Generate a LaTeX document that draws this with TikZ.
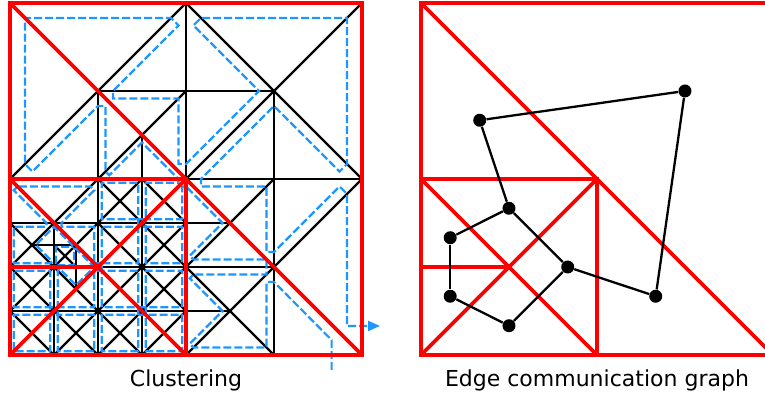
\documentclass[tikz,border=0pt]{standalone}
\usepackage{fontspec}
\setmainfont{DejaVu Sans}
\usetikzlibrary{arrows.meta}
\definecolor{clusterred}{HTML}{FF0000}
\definecolor{curveblue}{HTML}{1E96FF}
\tikzset{
  meshline/.style={black, line width=1.15pt},
  clusterline/.style={clusterred, line width=1.9pt},
  curveline/.style={curveblue, line width=1.1pt, dash pattern=on 4pt off 1.5pt},
  graphnode/.style={circle, fill=black, inner sep=0pt, minimum size=6.5pt},
  graphedge/.style={black, line width=1.15pt},
  caption/.style={font=\fontsize{11}{13}\selectfont, anchor=base},
}

%% newest vertex bisection: 1 = bisect, 0 = leaf (pre-order)
\def\codeEast{11010011100010100}
\def\codeR{1111001001100100111001001100100}
\def\codeB{1111001001100100111001001100100}
\def\codeLb{11100100110010100}
\def\codeLt{11110100110001100011000}
\def\codeTq{11010100111001001100100}
\def\codeWest{111100000}
\def\codeUpA{1101010011000}
\def\codeUpB{1101001110000}

\newcount\leafno
\newif\ifsamepoint
\def\popbit#1#2\relax{\gdef\thebit{#1}\gdef\meshcode{#2}}
\newcommand\testpoint[4]{%
  \samepointtrue
  \ifdim#1pt=#3pt\else\samepointfalse\fi
  \ifdim#2pt=#4pt\else\samepointfalse\fi}
% #1#2 entry vertex, #3#4 exit vertex, #5#6 apex
\newcommand\bisect[6]{%
  \expandafter\popbit\meshcode\relax
  \ifnum\thebit=1
    \pgfmathsetmacro\bsx{(#1+#3)/2}%
    \pgfmathsetmacro\bsy{(#2+#4)/2}%
    \draw[meshline] (#5,#6) -- (\bsx,\bsy);%
    \edef\next{\noexpand\bisect{#1}{#2}{#5}{#6}{\bsx}{\bsy}%
      \noexpand\bisect{#5}{#6}{#3}{#4}{\bsx}{\bsy}}%
  \else
    \pgfmathsetmacro\cvinx{#1+0.17*(#5-#1)}%
    \pgfmathsetmacro\cviny{#2+0.17*(#6-#2)}%
    \ifnum\leafno>0
      \testpoint{#5}{#6}{\cvlastax}{\cvlastay}%
      \ifsamepoint
        \xdef\curvepath{\curvepath -- (\cvoutcx,\cvoutcy)}%
      \else
        \xdef\curvepath{\curvepath -- (\cvoutx,\cvouty)}%
      \fi
      \testpoint{#3}{#4}{\cvlastcx}{\cvlastcy}%
      \ifsamepoint
        \pgfmathsetmacro\cvinx{\cvinx+0.085*(#3-#1)}%
        \pgfmathsetmacro\cviny{\cviny+0.085*(#4-#2)}%
      \fi
      \xdef\curvepath{\curvepath -- (\cvinx,\cviny)}%
    \fi
    \xdef\cvlastax{#1}\xdef\cvlastay{#2}%
    \xdef\cvlastcx{#5}\xdef\cvlastcy{#6}%
    \pgfmathsetmacro\cvoutx{#3+0.17*(#5-#3)}%
    \pgfmathsetmacro\cvouty{#4+0.17*(#6-#4)}%
    \pgfmathsetmacro\cvoutcx{\cvoutx+0.085*(#1-#3)}%
    \pgfmathsetmacro\cvoutcy{\cvouty+0.085*(#2-#4)}%
    \global\advance\leafno by 1
    \let\next\relax
  \fi
  \next}

\begin{document}
\begin{tikzpicture}[x=11pt, y=11pt]
  \useasboundingbox (-0.4545,-1.7727) rectangle (34.318,16.136);
  \clip (-0.4545,-1.7727) rectangle (34.318,16.136);

  %% Left: mesh and curve
  \xdef\meshcode{11\codeEast 1\codeR\codeB 111\codeLb\codeLt\codeTq\codeWest 1\codeUpA\codeUpB 0000}
  \gdef\curvepath{(14.62,-0.68) -- (14.62,0.68)}
  \bisect{16}{0}{0}{16}{0}{0}
  \bisect{0}{16}{16}{0}{16}{16}
  \xdef\curvepath{\curvepath -- (15.32,1.32)}
  \draw[curveline, -{Triangle[length=6pt, width=5pt]}] \curvepath -- (16.82,1.32);

  %% Cluster boundaries (both panels)
  \foreach \ox in {0,18.68} {
    \begin{scope}[shift={(\ox,0)}]
      \draw[clusterline] (0,0) rectangle (16,16);
      \draw[clusterline] (0,16) -- (16,0);
      \draw[clusterline] (0,8) -- (8,8) -- (8,0);
      \draw[clusterline] (0,0) -- (8,8);
      \draw[clusterline] (0,8) -- (8,0);
      \draw[clusterline] (0,4) -- (4,4);
    \end{scope}
  }

  %% Right: edge communication graph
  \begin{scope}[shift={(18.68,0)}]
    \node[graphnode] (upper)  at (12,12)      {};
    \node[graphnode] (west)   at (2.67,10.67) {};
    \node[graphnode] (east)   at (10.67,2.67) {};
    \node[graphnode] (qright) at (6.67,4)     {};
    \node[graphnode] (qtop)   at (4,6.67)     {};
    \node[graphnode] (qlup)   at (1.33,5.33)  {};
    \node[graphnode] (qllow)  at (1.33,2.67)  {};
    \node[graphnode] (qbot)   at (4,1.33)     {};

    \draw[graphedge] (west) -- (upper);
    \draw[graphedge] (upper) -- (east);
    \draw[graphedge] (east) -- (qright);
    \draw[graphedge] (qright) -- (qtop);
    \draw[graphedge] (qtop) -- (west);
    \draw[graphedge] (qtop) -- (qlup);
    \draw[graphedge] (qlup) -- (qllow);
    \draw[graphedge] (qllow) -- (qbot);
    \draw[graphedge] (qbot) -- (qright);
  \end{scope}

  %% Captions
  \node[caption] (capleft)  at (8,-1.41)     {Clustering};
  \node[caption] (capright) at (26.68,-1.41) {Edge communication graph};
\end{tikzpicture}
\end{document}
